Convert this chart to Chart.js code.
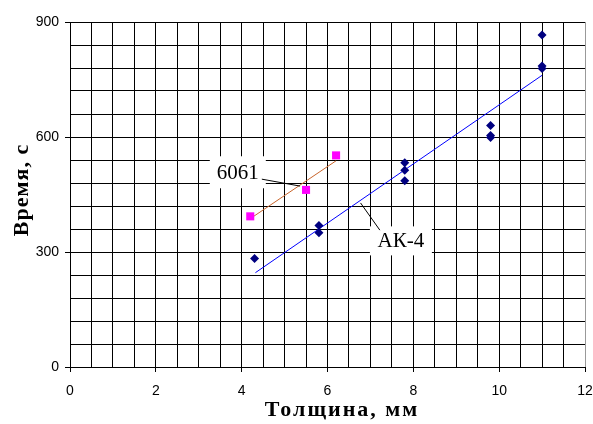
<!DOCTYPE html>
<html>
<head>
<meta charset="utf-8">
<script src="https://cdn.jsdelivr.net/npm/chart.js@4.4.1/dist/chart.umd.min.js"></script>
<style>
    body { margin: 0; background: #fff; }
    canvas { display: block; }
</style>
</head>
<body>
<canvas id="chart" width="593" height="424"></canvas>
<script>
// measured values
const ak4X = [4.3, 5.8, 5.8, 7.8, 7.8, 7.8, 9.8, 9.8, 9.8, 11, 11, 11];
const ak4Y = [283, 369, 350, 533, 513, 486, 630, 604, 599, 866, 785, 779];
const alX = [4.2, 5.5, 6.2];
const alY = [393, 462, 552];

// trend lines (end points)
const ak4TrendX = [4.32, 11];
const ak4TrendY = [246, 761];
const alTrendX = [4.2, 6.2];
const alTrendY = [387, 538];

const xTickLabels = [0, 2, 4, 6, 8, 10, 12];
const yTickLabels = [0, 300, 600, 900];

// label boxes with leader lines, in data units
const callouts = [
    { text: '6061', cx: 3.91, cy: 508, w: 56, h: 32, from: [4.47, 490], to: [5.36, 472] },
    { text: 'АК-4', cx: 7.71, cy: 329, w: 62, h: 29, from: [6.77, 428], to: [7.22, 357] }
];

function toPoints(xs, ys) {
    return xs.map((x, i) => ({ x: x, y: ys[i] }));
}

const calloutPlugin = {
    id: 'callouts',
    afterDraw(chart) {
        const ctx = chart.ctx;
        const xs = chart.scales.x, ys = chart.scales.y;
        ctx.save();
        callouts.forEach(c => {
            const px = xs.getPixelForValue(c.cx), py = ys.getPixelForValue(c.cy);
            ctx.fillStyle = '#fff';
            ctx.fillRect(px - c.w / 2, py - c.h / 2, c.w, c.h);
            ctx.fillStyle = '#000';
            ctx.font = '21px "Liberation Serif"';
            ctx.textAlign = 'center';
            ctx.textBaseline = 'middle';
            ctx.fillText(c.text, px, py + 1);
            ctx.strokeStyle = '#000';
            ctx.lineWidth = 1;
            ctx.beginPath();
            ctx.moveTo(xs.getPixelForValue(c.from[0]), ys.getPixelForValue(c.from[1]));
            ctx.lineTo(xs.getPixelForValue(c.to[0]), ys.getPixelForValue(c.to[1]));
            ctx.stroke();
        });

        // axis titles (slightly spaced like the original)
        ctx.fillStyle = '#000';
        ctx.font = 'bold 22px "Liberation Serif"';
        ctx.textAlign = 'center';
        ctx.textBaseline = 'middle';
        ctx.letterSpacing = '2px';
        ctx.fillText('Толщина, мм', 342, 410);
        ctx.letterSpacing = '1px';
        ctx.translate(22, 190);
        ctx.rotate(-Math.PI / 2);
        ctx.fillText('Время, с', 0, 0);
        ctx.restore();
    }
};

const tickFont = { family: '"Liberation Sans", Arial, sans-serif', size: 14 };

new Chart(document.getElementById('chart'), {
    type: 'scatter',
    data: {
        datasets: [{
            label: 'АК-4',
            data: toPoints(ak4X, ak4Y),
            pointStyle: 'rectRot',
            pointRadius: 4.5,
            backgroundColor: '#000080',
            borderColor: '#000080',
            borderWidth: 0,
            order: 1
        }, {
            label: '6061',
            data: toPoints(alX, alY),
            pointStyle: 'rect',
            pointRadius: 5.7,
            backgroundColor: '#FF00FF',
            borderColor: '#FF00FF',
            borderWidth: 0,
            order: 1
        }, {
            label: 'АК-4 trend',
            data: toPoints(ak4TrendX, ak4TrendY),
            showLine: true,
            pointRadius: 0,
            borderColor: '#0000FF',
            borderWidth: 1,
            order: 2
        }, {
            label: '6061 trend',
            data: toPoints(alTrendX, alTrendY),
            showLine: true,
            pointRadius: 0,
            borderColor: '#C8642A',
            borderWidth: 1,
            order: 2
        }]
    },
    options: {
        responsive: false,
        animation: false,
        devicePixelRatio: 1,
        layout: { padding: { top: 22, right: 8, left: 0, bottom: 0 } },
        plugins: {
            legend: { display: false },
            tooltip: { enabled: false }
        },
        scales: {
            x: {
                type: 'linear',
                min: 0,
                max: 12,
                afterFit: scale => {
                    scale.height = 57;
                    scale.paddingLeft = 0;
                    scale.paddingRight = 0;
                },
                border: { color: '#000', width: 1 },
                grid: {
                    color: ctx => ctx.tick && ctx.tick.value === 12 ? '#999' : '#000',
                    lineWidth: 1,
                    tickLength: 5,
                    tickColor: ctx => xTickLabels.includes(ctx.tick.value) ? '#000' : 'rgba(0,0,0,0)'
                },
                ticks: {
                    stepSize: 0.5,
                    autoSkip: false,
                    maxRotation: 0,
                    padding: 11,
                    color: '#000',
                    font: tickFont,
                    callback: v => xTickLabels.includes(v) ? String(v) : ''
                }
            },
            y: {
                type: 'linear',
                min: 0,
                max: 900,
                afterFit: scale => { scale.width = 70; },
                border: { color: '#000', width: 1 },
                grid: {
                    color: '#000',
                    lineWidth: 1,
                    tickLength: 5,
                    tickColor: ctx => yTickLabels.includes(ctx.tick.value) ? '#000' : 'rgba(0,0,0,0)'
                },
                ticks: {
                    stepSize: 60,
                    autoSkip: false,
                    padding: 6,
                    color: '#000',
                    font: tickFont,
                    callback: v => yTickLabels.includes(v) ? String(v) : ''
                }
            }
        }
    },
    plugins: [calloutPlugin]
});
</script>
</body>
</html>
